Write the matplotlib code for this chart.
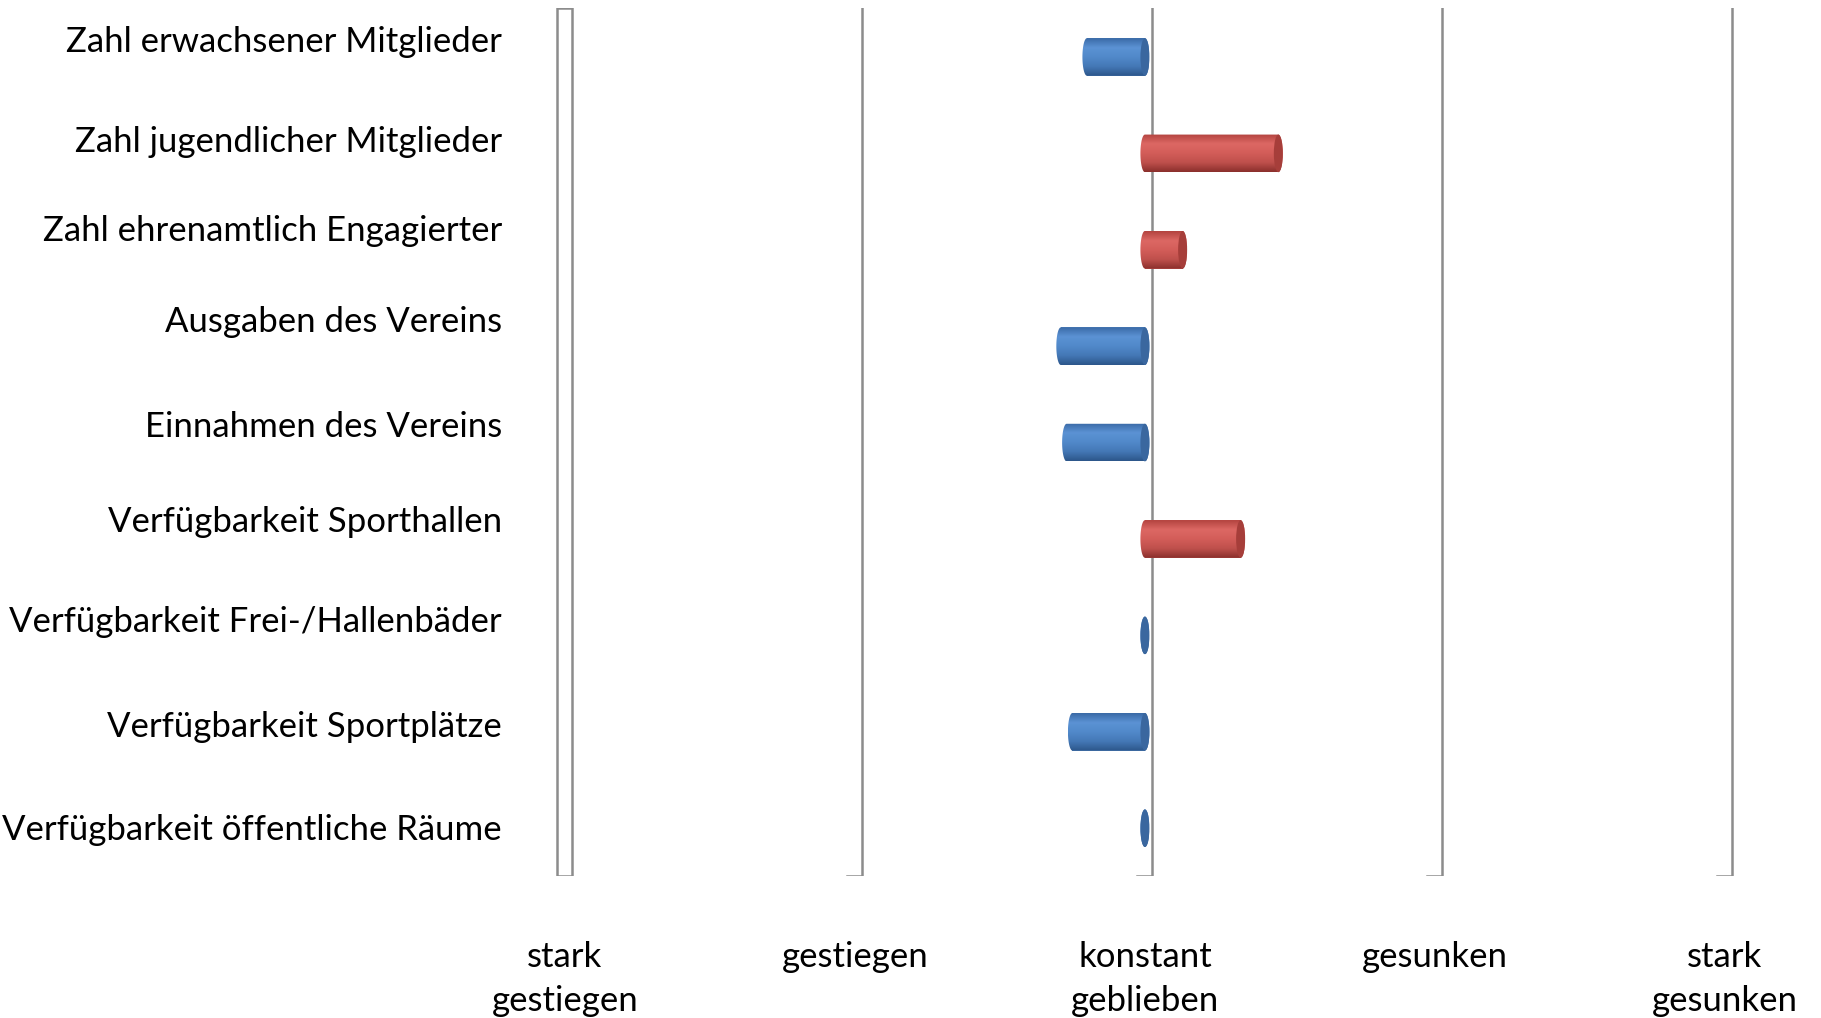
import numpy as np
import matplotlib.pyplot as plt
import matplotlib.transforms as mtransforms
from matplotlib.patches import Ellipse, PathPatch, Rectangle
from matplotlib.path import Path
from matplotlib.colors import LinearSegmentedColormap

# data
categories = ['Zahl erwachsener Mitglieder', 'Zahl jugendlicher Mitglieder',
              'Zahl ehrenamtlich Engagierter', 'Ausgaben des Vereins',
              'Einnahmen des Vereins', 'Verfügbarkeit Sporthallen',
              'Verfügbarkeit Frei-/Hallenbäder', 'Verfügbarkeit Sportplätze',
              'Verfügbarkeit öffentliche Räume']
values = [2.80, 3.46, 3.13, 2.71, 2.73, 3.33, 3.00, 2.75, 3.00]
scale_pos = [1, 2, 3, 4, 5]
scale_labels = ['stark\ngestiegen', 'gestiegen', 'konstant\ngeblieben',
                'gesunken', 'stark\ngesunken']
mid = 3

# layout (figure pixels)
label_baselines = [52, 152, 241, 332, 437, 532, 632, 737, 840]
W, H = 1821, 1018

plt.rcParams['font.family'] = ['Lato', 'DejaVu Sans']

fig = plt.figure(figsize=(W / 100, H / 100), dpi=100)
ax = fig.add_axes([540 / W, 142 / H, 1220 / W, 868 / H])
ax.set_axis_off()

xlim = (0.914, 5.121)
ylim = (8.496, -0.508)
depth = 15 / 290      # 3d depth of the back wall, data units
cap_a = 4.5 / 290     # half width of the cylinder end ellipse
bar_h = 0.39

grid_col = '#8c8c8c'
xt = ax.get_xaxis_transform()

# back wall / gridlines
ax.add_patch(Rectangle((scale_pos[0] - depth / 2, 0), depth, 1, transform=xt,
                       facecolor='white', edgecolor=grid_col, lw=1.8, zorder=1))
for p in scale_pos[1:]:
    ax.plot([p - depth / 2, p + depth / 2, p + depth / 2], [0, 0, 1],
            transform=xt, color=grid_col, lw=1.8, zorder=1,
            solid_joinstyle='miter')

blue_cmap = LinearSegmentedColormap.from_list(
    'b', ['#3a6aa6', '#5b92d4', '#5189ca', '#4478b6', '#2c568a'])
red_cmap = LinearSegmentedColormap.from_list(
    'r', ['#b3433f', '#dc6864', '#d35d59', '#bf504c', '#8a2f2c'])

rows = np.arange(len(categories))
diffs = np.array(values) - mid
colors = ['#4f81bd' if d <= 0 else '#c0504d' for d in diffs]
bars = ax.barh(rows, diffs, left=mid, height=bar_h, color=colors, zorder=3)

grad = np.linspace(0, 1, 128).reshape(-1, 1)
for bar, d in zip(bars, diffs):
    x0 = bar.get_x()
    x1 = x0 + bar.get_width()
    left, right = min(x0, x1), max(x0, x1)
    yc = bar.get_y() + bar.get_height() / 2
    hh = bar.get_height()
    cmap = blue_cmap if d <= 0 else red_cmap
    cap_col = '#3a679f' if d <= 0 else '#a63e3a'

    # cylinder silhouette
    t = np.linspace(np.pi / 2, -np.pi / 2, 40)
    rx = right + cap_a * np.cos(t)
    ry = yc - hh / 2 * np.sin(t)
    t2 = np.linspace(-np.pi / 2, np.pi / 2, 40)
    lx = left - cap_a * np.cos(t2)
    ly = yc - hh / 2 * np.sin(t2)
    verts = np.column_stack([np.r_[rx, lx, rx[0]], np.r_[ry, ly, ry[0]]])
    codes = [Path.MOVETO] + [Path.LINETO] * (len(verts) - 2) + [Path.CLOSEPOLY]
    clip = PathPatch(Path(verts, codes), transform=ax.transData,
                     facecolor='none', edgecolor='none')
    ax.add_patch(clip)

    im = ax.imshow(grad, cmap=cmap, extent=(left - cap_a, right + cap_a, yc + hh / 2, yc - hh / 2),
                   origin='upper', aspect='auto', zorder=3.5, interpolation='bilinear')
    im.set_clip_path(clip)

    ax.add_patch(Ellipse((right, yc), 2 * cap_a, hh, facecolor=cap_col,
                         edgecolor='none', zorder=4))

ax.set_xlim(*xlim)
ax.set_ylim(*ylim)

# category labels
for cat, b in zip(categories, label_baselines):
    fig.text(502 / W, 1 - b / H, cat, ha='right', va='baseline', fontsize=25)

# scale labels
bt = mtransforms.blended_transform_factory(ax.transData, fig.transFigure)
for p, lab in zip(scale_pos, scale_labels):
    for k, line in enumerate(lab.split('\n')):
        ax.text(p, 1 - (967 + 44 * k) / H, line, transform=bt,
                ha='center', va='baseline', fontsize=25)

fig.savefig('out.png', dpi=100)
